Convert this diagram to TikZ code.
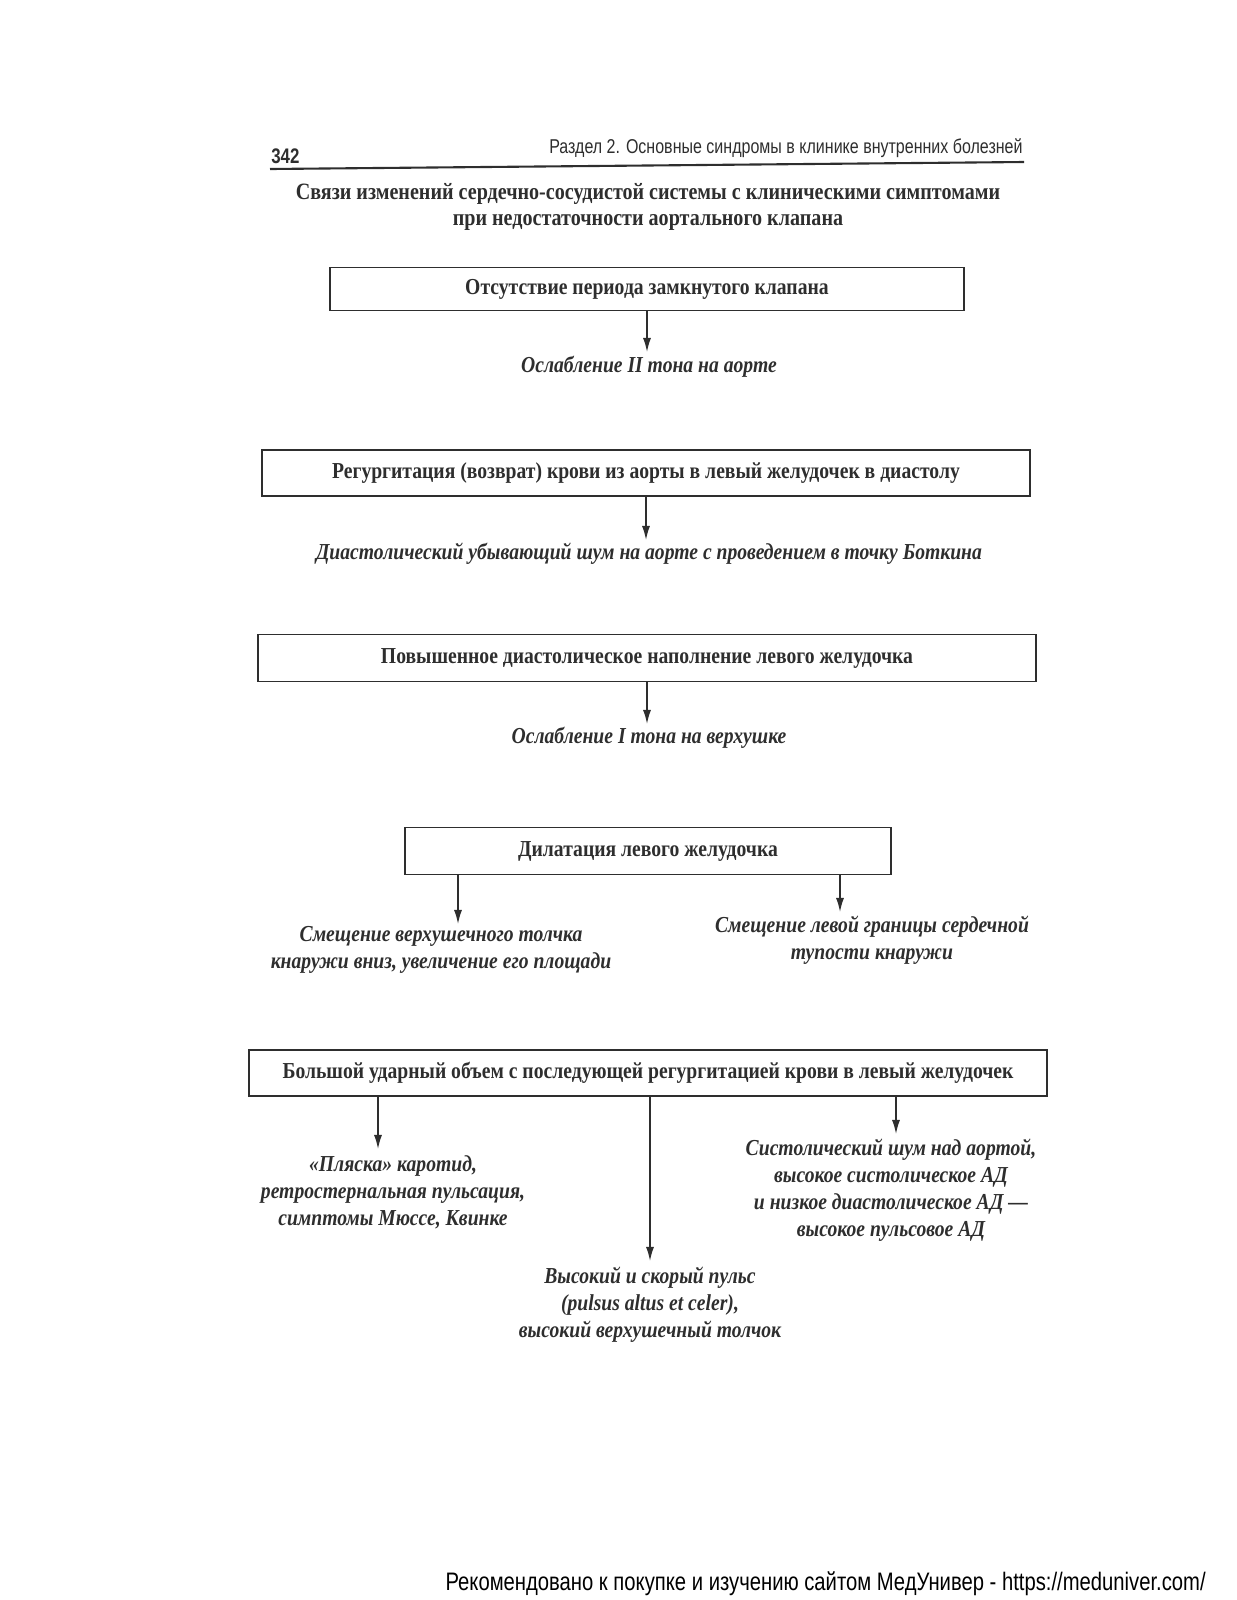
\documentclass[tikz,border=0pt]{standalone}
\usepackage{fontspec}
\setmainfont{Liberation Serif}[FakeStretch=0.86]
\newfontfamily\hdrfont{Liberation Sans}[FakeStretch=0.80]
\newfontfamily\footfont{Liberation Sans}[FakeStretch=0.80]
\usetikzlibrary{arrows.meta}
\definecolor{ink}{gray}{0.18}
\tikzset{
  box/.style={draw=ink, line width=1.1pt, inner sep=0pt, text=ink,
    font=\fontsize{13}{15.5}\selectfont\bfseries},
  lbl/.style={align=center, text=ink, inner sep=0pt,
    font=\fontsize{13}{15.4}\selectfont\bfseries\itshape},
  arr/.style={draw=ink, line width=0.85pt, -{Latex[length=8pt,width=4.6pt]}},
}
\begin{document}
\begin{tikzpicture}[x=0.02cm,y=-0.02cm]
\useasboundingbox (0,0) rectangle (1237,1600);

% header
\node[text=ink, font=\hdrfont\fontsize{12}{14}\selectfont\bfseries, anchor=west, inner sep=0pt] (pnum) at (271,156) {342};
\node[text=ink, font=\hdrfont\fontsize{11.4}{14}\selectfont, anchor=east, inner sep=0pt] (hdr) at (1023,148) {Раздел 2. Основные синдромы в клинике внутренних болезней};
\coordinate (rl) at (270,169);
\coordinate (rr) at (1024,162);
\draw[ink, line width=1.2pt] (rl) -- (rr);

% title
\node[text=ink, align=center, inner sep=0pt, font=\fontsize{13.3}{14.6}\selectfont\bfseries] (title) at (648,207)
  {Связи изменений сердечно-сосудистой системы с клиническими симптомами\\при недостаточности аортального клапана};

% boxes
\node[box, minimum width=12.70cm, minimum height=0.86cm] (b1) at (647,289) {Отсутствие периода замкнутого клапана};
\node[box, minimum width=15.38cm, minimum height=0.92cm] (b2) at (646,473) {Регургитация (возврат) крови из аорты в левый желудочек в диастолу};
\node[box, minimum width=15.56cm, minimum height=0.94cm] (b3) at (647,658) {Повышенное диастолическое наполнение левого желудочка};
\node[box, minimum width=9.72cm, minimum height=0.94cm] (b4) at (648,851) {Дилатация левого желудочка};
\node[box, minimum width=15.96cm, minimum height=0.92cm] (b5) at (648,1073) {Большой ударный объем с последующей регургитацией крови в левый желудочек};

% labels
\node[lbl] (t1) at (649,367) {Ослабление II тона на аорте};
\node[lbl] (t2) at (649,554) {Диастолический убывающий шум на аорте с проведением в точку Боткина};
\node[lbl] (t3) at (649,738) {Ослабление I тона на верхушке};
\node[lbl] (t4l) at (441,950) {Смещение верхушечного толчка\\кнаружи вниз, увеличение его площади};
\node[lbl] (t4r) at (872,940) {Смещение левой границы сердечной\\тупости кнаружи};
\node[lbl] (t5l) at (393,1192) {«Пляска» каротид,\\ретростернальная пульсация,\\симптомы Мюссе, Квинке};
\node[lbl] (t5r) at (891,1190) {Систолический шум над аортой,\\высокое систолическое АД\\и низкое диастолическое АД —\\высокое пульсовое АД};
\node[lbl] (t5m) at (650,1305) {Высокий и скорый пульс\\(pulsus altus et celer),\\высокий верхушечный толчок};

% arrows
\coordinate (a4l) at (458,0);
\coordinate (a4r) at (840,0);
\coordinate (a5l) at (378,0);
\coordinate (a5m) at (650,0);
\coordinate (a5r) at (896,0);
\draw[arr] (b1.south) -- (b1.south |- 0,352);
\draw[arr] (b2.south) -- (b2.south |- 0,540);
\draw[arr] (b3.south) -- (b3.south |- 0,724);
\draw[arr] (b4.south -| a4l) -- (a4l |- 0,924);
\draw[arr] (b4.south -| a4r) -- (a4r |- 0,912);
\draw[arr] (b5.south -| a5l) -- (a5l |- 0,1149);
\draw[arr] (b5.south -| a5m) -- (a5m |- 0,1261);
\draw[arr] (b5.south -| a5r) -- (a5r |- 0,1134);

% footer
\node[text=black, font=\footfont\fontsize{14.4}{16}\selectfont, anchor=east, inner sep=0pt] (foot) at (1206,1584)
  {Рекомендовано к покупке и изучению сайтом МедУнивер - https://meduniver.com/};
\end{tikzpicture}
\end{document}
